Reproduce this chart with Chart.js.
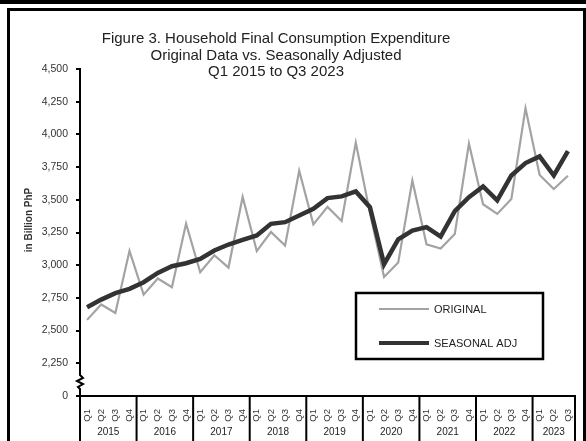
<!DOCTYPE html>
<html>
<head>
<meta charset="utf-8">
<script src="https://cdn.jsdelivr.net/npm/chart.js@4.4.0/dist/chart.umd.min.js"></script>
<style>
html, body { margin: 0; padding: 0; background: #fff; }
#wrap { position: relative; width: 586px; height: 441px; overflow: hidden; }
#topbar { position: absolute; left: 0; top: 0; width: 586px; height: 4px; background: #000; }
#frame { position: absolute; left: 7px; top: 8px; width: 573px; height: 440px; border: 3px solid #000; border-bottom: none; pointer-events: none; }
canvas { position: absolute; left: 0; top: 0; }
</style>
</head>
<body>
<div id="wrap">
  <canvas id="hfce" width="586" height="441"></canvas>
  <div id="topbar"></div>
  <div id="frame"></div>
</div>
<script>
// categories
const quarters = [
  'Q1','Q2','Q3','Q4', // 2015
  'Q1','Q2','Q3','Q4', // 2016
  'Q1','Q2','Q3','Q4', // 2017
  'Q1','Q2','Q3','Q4', // 2018
  'Q1','Q2','Q3','Q4', // 2019
  'Q1','Q2','Q3','Q4', // 2020
  'Q1','Q2','Q3','Q4', // 2021
  'Q1','Q2','Q3','Q4', // 2022
  'Q1','Q2','Q3'       // 2023
];
const years = ['2015','2016','2017','2018','2019','2020','2021','2022','2023'];
const quartersPerYear = [4, 4, 4, 4, 4, 4, 4, 4, 3];

// in Billion PhP
const original = [
  2582, 2700, 2635, 3110,
  2775, 2898, 2832, 3318,
  2946, 3076, 2982, 3522,
  3108, 3254, 3150, 3722,
  3312, 3446, 3338, 3938,
  3400, 2910, 3020, 3648,
  3160, 3128, 3238, 3930,
  3466, 3392, 3506, 4200,
  3690, 3582, 3684
];
const seasonal = [
  2679, 2737, 2786, 2819,
  2870, 2941, 2992, 3015,
  3048, 3112, 3158, 3194,
  3227, 3316, 3329, 3380,
  3431, 3513, 3526, 3564,
  3444, 3008, 3198, 3265,
  3291, 3219, 3413, 3520,
  3602, 3495, 3686, 3781,
  3832, 3686, 3872
];

const titleLines = [
  'Figure 3. Household Final Consumption Expenditure',
  'Original Data vs. Seasonally Adjusted',
  'Q1 2015 to Q3 2023'
];
const yTitle = 'in Billion PhP';
const axisBreak = 2000; // bottom of the broken axis, shown as 0

const FONT = '"Liberation Sans", Arial, sans-serif';

// titulo, ejes y leyenda dibujados a mano
const decor = {
  id: 'decor',
  afterDraw(chart) {
    const ctx = chart.ctx;
    const xs = chart.scales.x;
    const area = chart.chartArea;
    ctx.save();

    // titulo
    ctx.fillStyle = '#222';
    ctx.font = '15px ' + FONT;
    ctx.textAlign = 'center';
    ctx.textBaseline = 'middle';
    titleLines.forEach((t, i) => ctx.fillText(t, 276, 39 + i * 16.5));

    // titulo eje y
    ctx.save();
    ctx.translate(29, 220);
    ctx.rotate(-Math.PI / 2);
    ctx.font = 'bold 10px ' + FONT;
    ctx.fillStyle = '#333';
    ctx.fillText(yTitle, 0, 0);
    ctx.restore();

    // corte del eje y
    const bx = area.left;
    ctx.fillStyle = '#fff';
    ctx.fillRect(bx - 4, 373, 8, 16);
    ctx.strokeStyle = '#000';
    ctx.lineWidth = 2;
    ctx.beginPath();
    ctx.moveTo(bx, 371);
    ctx.lineTo(bx, 375);
    ctx.lineTo(bx + 3, 378);
    ctx.lineTo(bx - 3, 381);
    ctx.lineTo(bx + 3, 384);
    ctx.lineTo(bx - 2, 387);
    ctx.lineTo(bx, 389);
    ctx.lineTo(bx, 392);
    ctx.stroke();

    // separadores y etiquetas de año
    const half = (xs.getPixelForValue(1) - xs.getPixelForValue(0)) / 2;
    let start = 0;
    ctx.font = '10px ' + FONT;
    ctx.fillStyle = '#222';
    ctx.textAlign = 'center';
    ctx.lineWidth = 2;
    ctx.beginPath();
    ctx.moveTo(xs.getPixelForValue(0) - half, area.bottom);
    ctx.lineTo(xs.getPixelForValue(0) - half, chart.height);
    years.forEach((yr, i) => {
      const end = start + quartersPerYear[i] - 1;
      const x0 = xs.getPixelForValue(start) - half;
      const x1 = xs.getPixelForValue(end) + half;
      ctx.moveTo(x1, area.bottom);
      ctx.lineTo(x1, chart.height);
      ctx.fillText(yr, (x0 + x1) / 2, 432);
      start = end + 1;
    });
    ctx.stroke();

    // leyenda
    const lx = 356, ly = 293, lw = 187, lh = 66;
    ctx.fillStyle = '#fff';
    ctx.fillRect(lx, ly, lw, lh);
    ctx.strokeStyle = '#000';
    ctx.lineWidth = 2.5;
    ctx.strokeRect(lx, ly, lw, lh);
    ctx.font = '11px ' + FONT;
    ctx.textAlign = 'left';
    ctx.fillStyle = '#222';
    const rows = [chart.data.datasets[1], chart.data.datasets[0]];
    rows.forEach((ds, i) => {
      const y = 309 + i * 34;
      ctx.strokeStyle = ds.borderColor;
      ctx.lineWidth = i === 0 ? 2 : 4;
      ctx.beginPath();
      ctx.moveTo(379, y);
      ctx.lineTo(429, y);
      ctx.stroke();
      ctx.fillText(ds.label, 434, y + 1);
    });

    ctx.restore();
  }
};

new Chart(document.getElementById('hfce'), {
  type: 'line',
  data: {
    labels: quarters,
    datasets: [{
      label: 'SEASONAL ADJ',
      data: seasonal,
      borderColor: '#333333',
      borderWidth: 4.5,
      pointRadius: 0,
      tension: 0,
      order: 0
    }, {
      label: 'ORIGINAL',
      data: original,
      borderColor: '#a3a3a3',
      borderWidth: 2.2,
      pointRadius: 0,
      tension: 0,
      order: 1
    }]
  },
  options: {
    responsive: false,
    animation: false,
    layout: { padding: { top: 69, right: 11, left: 0, bottom: 0 } },
    plugins: {
      legend: { display: false },
      title: { display: false },
      tooltip: { enabled: false }
    },
    scales: {
      x: {
        offset: true,
        afterFit: s => { s.height = 45; },
        border: { display: true, color: '#000', width: 2 },
        grid: { display: false },
        ticks: {
          autoSkip: false,
          minRotation: 90,
          maxRotation: 90,
          padding: 5,
          color: '#333',
          font: { family: FONT, size: 9.5 }
        }
      },
      y: {
        min: axisBreak,
        max: 4500,
        afterFit: s => { s.width = 80; },
        border: { display: true, color: '#000', width: 2 },
        grid: { drawOnChartArea: false, drawTicks: true, tickLength: 4, color: '#000', lineWidth: 2 },
        ticks: {
          stepSize: 250,
          padding: 8,
          color: '#333',
          font: { family: FONT, size: 10.5 },
          callback: v => v === axisBreak ? '0' : v.toLocaleString('en-US')
        }
      }
    }
  },
  plugins: [decor]
});
</script>
</body>
</html>
